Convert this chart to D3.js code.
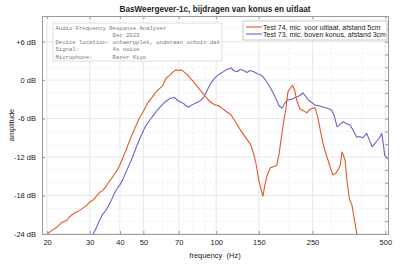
<!DOCTYPE html>
<html>
<head>
<meta charset="utf-8">
<title>BasWeergever-1c</title>
<script src="https://cdn.jsdelivr.net/npm/d3@7"></script>
<style>
  body { margin: 0; background: #fff; }
  svg { display: block; font-family: "Liberation Sans", Arial, sans-serif; }
  .axis path { stroke: #999; }
  .axis line { stroke: #999; }
  .axis text { fill: #222; font-size: 7.5px; }
</style>
</head>
<body>
<svg id="svg"></svg>
<script>
// ---- data ----
var freqTest74 = [20,21,22,23,24,25,26,27,28,29,30,31,32,33,34,35,36,37,38,39,40,42,44,46,48,50,52,54,56,58,60,62,64,66,68,70,72,74,76,78,80,83,86,90,94,98,102,105,110,115,120,126,132,139,143,146,150,153,156,159,162,167,172,178,182,186,190,194,198,203,207,211,215,222,230,237,243,250,256,263,270,276,283,290,297,304,312,320,326,331,337,341,347,355,364,372,381,386];
var dbTest74 =   [-24.0,-23.4,-22.9,-22.2,-21.9,-21.2,-20.7,-20.4,-20.0,-19.6,-19.0,-18.7,-18.1,-17.5,-17.2,-16.6,-15.9,-15.3,-14.6,-14.0,-13.2,-11.3,-9.3,-7.6,-6.0,-4.9,-3.6,-2.8,-2.0,-1.4,-0.9,0.3,0.7,1.2,1.6,1.5,1.6,1.2,0.9,0.3,-0.1,-0.9,-1.6,-2.5,-3.3,-3.8,-4.0,-4.3,-4.9,-5.4,-6.5,-7.8,-8.9,-10.1,-11.6,-13.0,-15.6,-17.0,-18.1,-16.3,-15.0,-13.7,-13.5,-13.3,-11.5,-8.9,-6.5,-4.5,-1.8,-1.2,-0.8,-1.6,-3.1,-4.5,-4.8,-5.1,-4.6,-4.4,-4.3,-5.8,-8.0,-9.8,-11.3,-12.5,-13.8,-14.8,-14.5,-13.9,-13.2,-11.2,-11.9,-12.5,-15.6,-18.5,-19.5,-21.6,-23.9,-24.8];

var freqTest73 = [31,32,33,34,35,36,37,38,39,40,41,43,45,47,49,51,53,55,57,59,61,63,65,67,69,71,73,75,77,79,82,84,86,89,92,95,98,101,105,110,115,118,122,126,130,134,138,143,148,153,157,162,167,172,177,182,187,192,197,205,210,216,222,228,234,240,248,256,266,276,288,300,308,316,325,335,346,357,368,381,392,404,412,419,430,441,452,466,475,483,490,497,505,512];
var dbTest73 =   [-24.0,-23.0,-21.8,-20.9,-20.3,-19.5,-18.6,-17.6,-16.9,-16.3,-15.6,-13.8,-12.1,-10.2,-8.6,-7.2,-6.3,-5.5,-4.7,-4.1,-3.5,-3.1,-2.8,-2.7,-3.1,-3.4,-3.6,-4.0,-4.2,-3.9,-3.6,-3.4,-3.2,-2.6,-1.5,-0.5,0.2,0.7,1.1,1.6,1.9,1.5,1.3,1.7,1.5,1.2,1.5,1.3,1.0,0.8,0.4,-0.3,-1.1,-2.0,-3.0,-4.0,-4.4,-3.6,-3.1,-3.0,-2.8,-2.6,-2.4,-2.0,-2.5,-3.1,-3.5,-3.9,-4.0,-4.2,-4.4,-4.7,-5.6,-7.3,-6.9,-6.5,-6.8,-7.0,-7.8,-8.9,-8.8,-9.0,-8.6,-8.3,-9.4,-10.4,-9.9,-9.3,-8.9,-8.3,-9.8,-11.7,-12.0,-12.3];

var seriesNames = ["Test 74, mic. voor uitlaat, afstand 5cm", "Test 73, mic. boven konus, afstand 3cm"];
var seriesColors = ["#e2582a", "#6c64c8"];

var xTicks = [20, 30, 40, 50, 70, 100, 150, 250, 500];
var xMinor = [60, 80, 90, 200, 300, 400];
var yTicks = [-24, -18, -12, -6, 0, 6];
var yTickLabels = ["-24 dB", "-18 dB", "-12 dB", "-6 dB", "0 dB", "+6 dB"];
var yMinor = [-22, -20, -16, -14, -10, -8, -4, -2, 2, 4, 8];

var infoLines = [
  "Audio Frequency Response Analyser",
  "                 Dec 2023",
  "Device location: ontwerpplek, onderaan schuin dak",
  "Signal:          4s noise",
  "Microphone:      Razer Kiyo"
];

// ---- layout ----
var width = 400, height = 264,
    margin = {top: 16, left: 42, right: 12, bottom: 30};
var plotW = width - margin.left - margin.right,
    plotH = height - margin.top - margin.bottom;

var svg = d3.select("#svg").attr("width", width).attr("height", height);

var x = d3.scaleLog().domain([19.05, 513]).range([0, plotW]);
var y = d3.scaleLinear().domain([-24, 10]).range([plotH, 0]);

var g = svg.append("g").attr("transform", "translate(" + margin.left + "," + margin.top + ")");

g.append("rect").attr("width", plotW).attr("height", plotH).attr("fill", "#fff");

// grid
g.selectAll(".xminor").data(xMinor).enter().append("line")
  .attr("x1", function(d) { return x(d); }).attr("x2", function(d) { return x(d); })
  .attr("y1", 0).attr("y2", plotH)
  .attr("stroke", "#ececec").attr("stroke-dasharray", "2,2").attr("stroke-width", 0.8);
g.selectAll(".yminor").data(yMinor).enter().append("line")
  .attr("x1", 0).attr("x2", plotW)
  .attr("y1", function(d) { return y(d); }).attr("y2", function(d) { return y(d); })
  .attr("stroke", "#ececec").attr("stroke-dasharray", "2,2").attr("stroke-width", 0.8);
g.selectAll(".xgrid").data(xTicks).enter().append("line")
  .attr("x1", function(d) { return x(d); }).attr("x2", function(d) { return x(d); })
  .attr("y1", 0).attr("y2", plotH)
  .attr("stroke", "#e2e2e2").attr("stroke-width", 0.8);
g.selectAll(".ygrid").data(yTicks).enter().append("line")
  .attr("x1", 0).attr("x2", plotW)
  .attr("y1", function(d) { return y(d); }).attr("y2", function(d) { return y(d); })
  .attr("stroke", "#e2e2e2").attr("stroke-width", 0.8);

// curves
svg.append("clipPath").attr("id", "clip").append("rect").attr("width", plotW).attr("height", plotH);
var line = d3.line().x(function(d) { return x(d[0]); }).y(function(d) { return y(d[1]); });
var curves = [d3.zip(freqTest73, dbTest73), d3.zip(freqTest74, dbTest74)];
var curveColors = [seriesColors[1], seriesColors[0]];
g.append("g").attr("clip-path", "url(#clip)").selectAll("path").data(curves).enter().append("path")
  .attr("d", line).attr("fill", "none")
  .attr("stroke", function(d, i) { return curveColors[i]; })
  .attr("stroke-width", 1.1).attr("stroke-linejoin", "round");

// axes (ticks pointing inward, box on)
var axisB = d3.axisBottom(x).tickValues(xTicks).tickFormat(d3.format("d")).tickSize(-3).tickPadding(6);
g.append("g").attr("class", "axis").attr("transform", "translate(0," + plotH + ")").call(axisB);
var axisT = d3.axisTop(x).tickValues(xTicks).tickFormat("").tickSize(-3);
g.append("g").attr("class", "axis").call(axisT);
var axisL = d3.axisLeft(y).tickValues(yTicks).tickFormat(function(d, i) { return yTickLabels[i]; }).tickSize(-3).tickPadding(6);
g.append("g").attr("class", "axis").call(axisL);
var axisR = d3.axisRight(y).tickValues(yTicks.concat(yMinor)).tickFormat("").tickSize(-3);
g.append("g").attr("class", "axis").attr("transform", "translate(" + plotW + ",0)").call(axisR);
g.selectAll(".axis .domain").attr("stroke", "#999");

// info box
var info = g.append("g").attr("transform", "translate(" + 11 + "," + 7 + ")");
info.append("rect").attr("width", 169).attr("height", 38)
  .attr("fill", "#fff").attr("stroke", "#d4d4d4").attr("stroke-width", 0.8);
info.selectAll("text").data(infoLines).enter().append("text")
  .attr("x", 2.5).attr("y", function(d, i) { return 6.5 + i * 7.3; })
  .attr("font-family", "'Liberation Mono', 'DejaVu Sans Mono', monospace")
  .attr("font-size", 5.6).attr("fill", "#777")
  .style("white-space", "pre")
  .text(function(d) { return d; });

// legend
var leg = g.append("g").attr("transform", "translate(" + (plotW - 145) + "," + 5 + ")");
leg.append("rect").attr("width", 144).attr("height", 19)
  .attr("fill", "#fff").attr("stroke", "#bbb").attr("stroke-width", 0.8);
var items = leg.selectAll("g").data(seriesNames).enter().append("g")
  .attr("transform", function(d, i) { return "translate(0," + (6 + i * 7) + ")"; });
items.append("line").attr("x1", 3).attr("x2", 19).attr("y1", 0).attr("y2", 0)
  .attr("stroke", function(d, i) { return seriesColors[i]; }).attr("stroke-width", 1.1);
items.append("text").attr("x", 20).attr("y", 2.5).attr("font-size", 7).attr("fill", "#222")
  .text(function(d) { return d; });

// titles
svg.append("text").attr("x", margin.left + plotW / 2).attr("y", 12)
  .attr("text-anchor", "middle").attr("font-weight", "bold").attr("font-size", 8.2).attr("fill", "#222")
  .text("BasWeergever-1c, bijdragen van konus en uitlaat");
svg.append("text").attr("x", margin.left + plotW / 2).attr("y", 258)
  .attr("text-anchor", "middle").attr("font-size", 7.5).attr("fill", "#222")
  .style("white-space", "pre")
  .text("frequency  (Hz)");
svg.append("text").attr("transform", "translate(14,125) rotate(-90)")
  .attr("text-anchor", "middle").attr("font-size", 7.5).attr("fill", "#222")
  .text("amplitude");
</script>
</body>
</html>
